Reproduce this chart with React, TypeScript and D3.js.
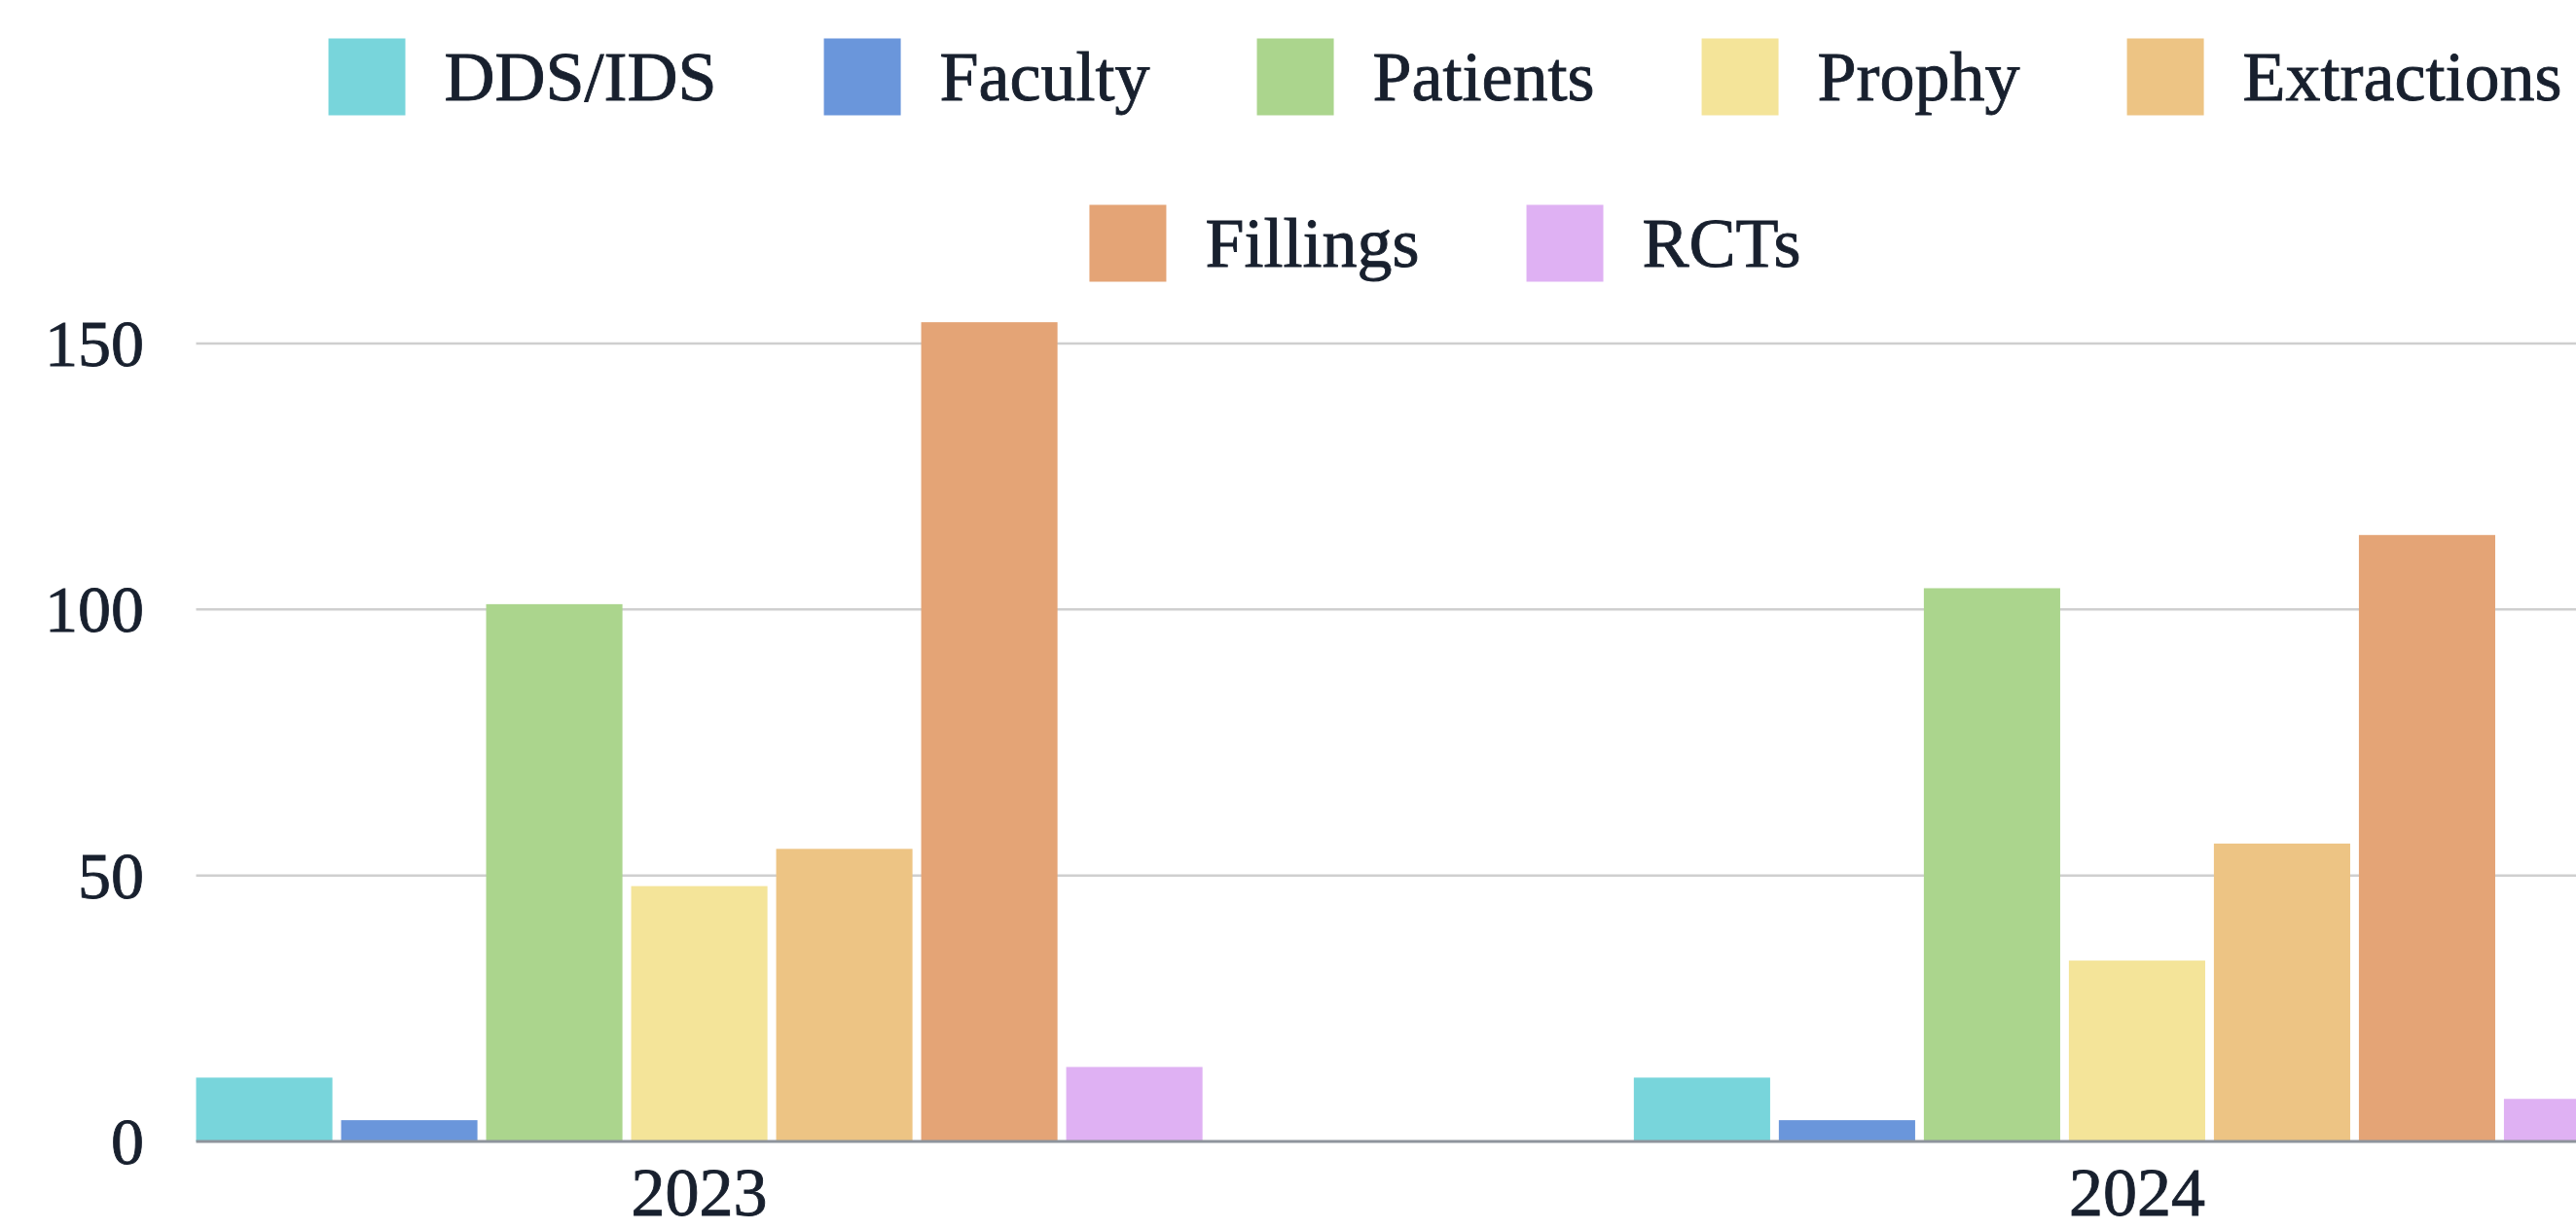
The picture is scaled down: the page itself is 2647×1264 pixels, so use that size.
import React, { useRef, useEffect } from 'react'
import * as d3 from 'd3'

// data
const years = ['2023', '2024']
const seriesNames = ['DDS/IDS', 'Faculty', 'Patients', 'Prophy', 'Extractions', 'Fillings', 'RCTs']
const seriesColors = ['#78d5db', '#6a96db', '#abd58d', '#f4e499', '#edc484', '#e4a476', '#dfb1f3']
const values2023 = [12, 4, 101, 48, 55, 154, 14]
const values2024 = [12, 4, 104, 34, 56, 114, 8]
const yTicks = [0, 50, 100, 150]

const W = 2647
const H = 1264
const FONT = '"Liberation Serif", "Times New Roman", serif'
const TEXT = '#18202e'

const App: React.FC = () => {
  const svgRef = useRef<SVGSVGElement>(null)

  useEffect(() => {
    if (!svgRef.current) return
    const svg = d3.select(svgRef.current)
    svg.selectAll('*').remove()

    const rows = [values2023, values2024]
    const margin = { left: 201.5, top: 353, bottom: 1173 }

    // chart is clipped on the right, the plot runs past the window
    const x0 = d3.scaleBand<string>()
      .domain(years)
      .range([margin.left, 2713])
      .paddingInner(0.3)
      .paddingOuter(0)

    const x1 = d3.scaleBand<string>()
      .domain(seriesNames)
      .range([0, x0.bandwidth()])
      .paddingInner(0.06)
      .paddingOuter(0)

    const y = d3.scaleLinear()
      .domain([0, 150])
      .range([margin.bottom, margin.top])

    const color = d3.scaleOrdinal<string, string>()
      .domain(seriesNames)
      .range(seriesColors)

    // slightly heavier text, the reference glyphs look a bit thick
    const styleText = (sel: any, size: number) => sel
      .style('font-family', FONT)
      .style('font-size', `${size}px`)
      .style('fill', TEXT)
      .style('stroke', TEXT)
      .style('stroke-width', 0.9)

    // gridlines
    svg.append('g')
      .selectAll('line')
      .data(yTicks.filter(t => t !== 0))
      .enter()
      .append('line')
      .attr('x1', margin.left)
      .attr('x2', W)
      .attr('y1', d => y(d))
      .attr('y2', d => y(d))
      .attr('stroke', '#cfcfcf')
      .attr('stroke-width', 2.5)

    // y labels
    svg.append('g')
      .selectAll('text')
      .data(yTicks)
      .enter()
      .append('text')
      .attr('x', 148)
      .attr('y', d => y(d) + 23)
      .attr('text-anchor', 'end')
      .call(styleText, 68)
      .text(d => d)

    // bars
    const groups = svg.append('g')
      .selectAll('g')
      .data(years)
      .enter()
      .append('g')
      .attr('transform', d => `translate(${x0(d)},0)`)

    groups.selectAll('rect')
      .data((d, i) => seriesNames.map((s, j) => ({ s, v: rows[i][j] })))
      .enter()
      .append('rect')
      .attr('x', d => x1(d.s) as number)
      .attr('y', d => y(d.v))
      .attr('width', x1.bandwidth())
      .attr('height', d => y(0) - y(d.v))
      .attr('fill', d => color(d.s))

    // baseline
    svg.append('line')
      .attr('x1', margin.left)
      .attr('x2', W)
      .attr('y1', y(0))
      .attr('y2', y(0))
      .attr('stroke', '#8e949c')
      .attr('stroke-width', 3)

    // x labels
    svg.append('g')
      .selectAll('text')
      .data(years)
      .enter()
      .append('text')
      .attr('x', d => (x0(d) as number) + x0.bandwidth() / 2)
      .attr('y', 1249)
      .attr('text-anchor', 'middle')
      .call(styleText, 70)
      .text(d => d)

    // legend, wrapped into centred rows
    const box = 79
    const boxGap = 40
    const itemGap = 110
    const maxRow = 2400
    const legendCenter = 1485
    const rowY = [79, 250]

    const legend = svg.append('g')
    const items = seriesNames.map(name => {
      const g = legend.append('g')
      g.append('rect')
        .attr('width', box)
        .attr('height', box)
        .attr('y', -box / 2)
        .attr('fill', color(name))
      const t = g.append('text')
        .attr('x', box + boxGap)
        .attr('y', 24)
        .call(styleText, 72)
        .text(name)
      const w = box + boxGap + (t.node() as SVGTextElement).getComputedTextLength()
      return { g, w }
    })

    const lines: { g: any; w: number }[][] = [[]]
    let used = 0
    items.forEach(it => {
      const cur = lines[lines.length - 1]
      const need = cur.length ? used + itemGap + it.w : it.w
      if (cur.length && need > maxRow) {
        lines.push([it])
        used = it.w
      } else {
        cur.push(it)
        used = need
      }
    })

    lines.forEach((line, r) => {
      const total = d3.sum(line, d => d.w) + itemGap * (line.length - 1)
      let xPos = legendCenter - total / 2
      line.forEach(it => {
        it.g.attr('transform', `translate(${xPos},${rowY[r]})`)
        xPos += it.w + itemGap
      })
    })
  }, [])

  return (
    <svg
      ref={svgRef}
      width={W}
      height={H}
      style={{ position: 'absolute', left: 0, top: 0, background: '#fff' }}
    />
  )
}

export default App
